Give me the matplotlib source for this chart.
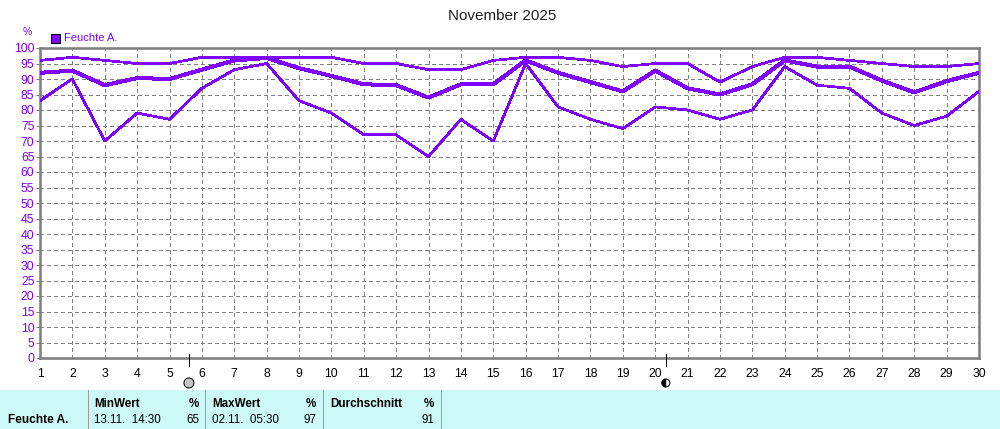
#!/usr/bin/env python
# -*- coding: utf-8 -*-
import matplotlib
matplotlib.use('Agg')
import matplotlib.pyplot as plt
from matplotlib.patches import Rectangle, Wedge, Circle

plt.rcParams['font.family'] = ['Liberation Sans', 'DejaVu Sans']

days = list(range(1, 31))
hum_max = [96, 97, 96, 95, 95, 97, 97, 97, 97, 97, 95, 95, 93, 93, 96,
           97, 97, 96, 94, 95, 95, 89, 94, 97, 97, 96, 95, 94, 94, 95]
hum_avg = [92, 92.7, 88, 90.3, 90, 93, 96, 96.8, 93.5, 91, 88.3, 88, 84, 88.3, 88.3,
           96, 92, 89, 86, 92.7, 87, 85, 88.3, 96, 94, 94, 89.5, 85.7, 89.3, 92]
hum_min = [83, 90, 70, 79, 77, 87, 93, 95, 83, 79, 72, 72, 65, 77, 70,
           95, 81, 77, 74, 81, 80, 77, 80, 94, 88, 87, 79, 75, 78, 86]
y_ticks = list(range(0, 101, 5))
full_moon_day = 5.6
last_quarter_day = 20.33

title = 'November 2025'
series_name = 'Feuchte A.'
table_heads = ['MinWert', 'MaxWert', 'Durchschnitt']
table_units = ['%', '%', '%']
table_times = ['13.11.  14:30', '02.11.  05:30', '']
table_vals = ['65', '97', '91']

PURPLE = '#8000ff'
GREY = '#808080'
W, H = 1000.0, 429.0
PX = 0.72  # one pixel in points at dpi 100


def px_axes(x0, y0, x1, y1):
    # pixel box, y counted from the top of the picture
    return [x0 / W, 1 - y1 / H, (x1 - x0) / W, (y1 - y0) / H]


fig = plt.figure(figsize=(10, 4.29), dpi=100)
ax = fig.add_axes(px_axes(40, 48, 979, 358))

ax.plot(days, hum_max, color=PURPLE, lw=1.7 * PX, antialiased=False, zorder=3)
ax.plot(days, hum_avg, color=PURPLE, lw=3 * PX, antialiased=False, zorder=3)
ax.plot(days, hum_min, color=PURPLE, lw=1.7 * PX, antialiased=False, zorder=3)

ax.set_xlim(1, 30)
ax.set_ylim(0, 100)
ax.set_xticks(days)
ax.set_yticks(y_ticks)
ax.grid(True, color=GREY, lw=PX, ls=(0, (3, 3)), antialiased=False, zorder=1)
ax.tick_params(axis='x', length=0, pad=7, labelsize=8.8, colors='black')
ax.tick_params(axis='y', length=3, width=PX, color=GREY, pad=1, labelsize=8.8,
               labelcolor=PURPLE)
for side in ax.spines:
    ax.spines[side].set_color(GREY)
    ax.spines[side].set_linewidth(2.6 * PX)

# figure-wide overlay in pixel coordinates for title, legend, moons and table
ov = fig.add_axes([0, 0, 1, 1], facecolor='none')
ov.set_xlim(0, W)
ov.set_ylim(H, 0)
ov.axis('off')

ov.text(502, 16, title, ha='center', va='center', fontsize=11, color='#202020')
ov.text(27, 32, '%', ha='center', va='center', fontsize=7.5, color=PURPLE)
ov.add_patch(Rectangle((50.5, 33.5), 9, 9, fc=PURPLE, ec='black', lw=PX))
ov.text(64, 38, series_name, ha='left', va='center', fontsize=8, color=PURPLE)

# moon phases, placed through the chart's own x scale
for day, kind in [(full_moon_day, 'full'), (last_quarter_day, 'last')]:
    xp = ax.transData.transform((day, 0))[0]
    ov.plot([xp, xp], [354, 366], color='black', lw=PX, antialiased=False)
    if kind == 'full':
        ov.add_patch(Circle((xp, 383), 5, fc='#c4c4c4', ec='black', lw=PX))
    else:
        ov.add_patch(Circle((xp, 383), 4, fc='white', ec='black', lw=PX))
        ov.add_patch(Wedge((xp, 383), 4, 90, 270, fc='black', ec='black', lw=0.5))

# stats table
ov.add_patch(Rectangle((0, 390), W, 39, fc='#ccf9f7', ec='none'))
for xd in [88, 205, 323, 441]:
    ov.plot([xd, xd], [390, 429], color='#9a9a9a', lw=PX, antialiased=False)
ov.text(8, 420, series_name, ha='left', va='center', fontsize=8.6,
        fontweight='bold', color='black')
col_left = [94, 212, 330]
col_right = [199, 316, 434]
for i in range(3):
    ov.text(col_left[i], 404, table_heads[i], ha='left', va='center',
            fontsize=8.4, fontweight='bold', color='black')
    ov.text(col_right[i], 404, table_units[i], ha='right', va='center',
            fontsize=8.4, fontweight='bold', color='black')
    ov.text(col_left[i], 420, table_times[i], ha='left', va='center',
            fontsize=8.4, color='black')
    ov.text(col_right[i], 420, table_vals[i], ha='right', va='center',
            fontsize=8.4, color='black')

fig.savefig('out.png', dpi=100)
